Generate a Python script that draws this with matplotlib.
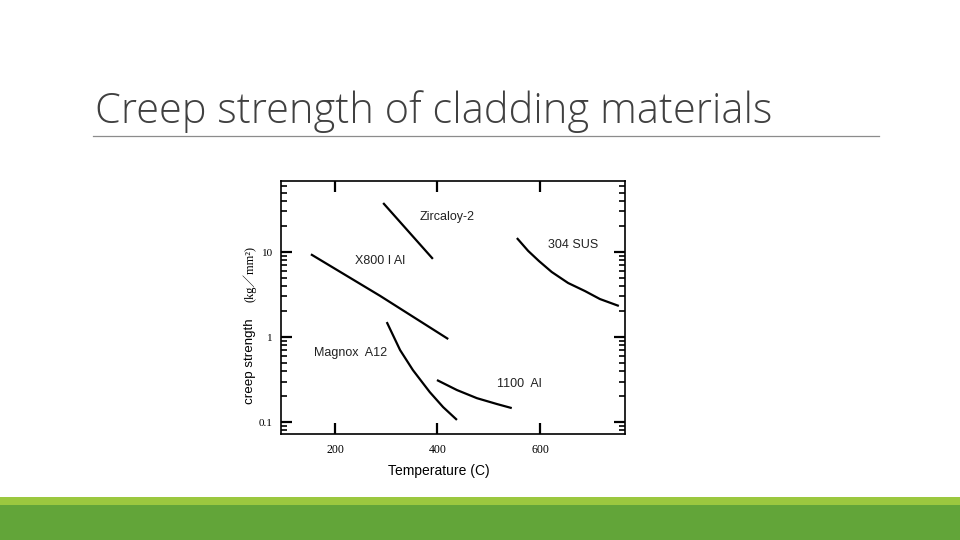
import numpy as np
import matplotlib
matplotlib.use("Agg")
import matplotlib.pyplot as plt
from matplotlib.ticker import LogLocator, NullFormatter, FixedLocator

# ─────────────────────────────────────────────
# DATA (temperature in C, creep strength in kg/mm2)
# ─────────────────────────────────────────────
zirc_T = [294, 391]
zirc_s = [37.7, 8.3]

x800_T = [153, 288, 421]
x800_s = [9.4, 3.05, 0.947]

sus_T = [555, 577, 598, 623, 655, 688, 717, 754]
sus_s = [14.6, 10.3, 7.84, 5.82, 4.32, 3.47, 2.80, 2.32]

magnox_T = [301, 327, 337, 352, 370, 385, 411, 438]
magnox_s = [1.50, 0.703, 0.566, 0.409, 0.295, 0.225, 0.150, 0.106]

al1100_T = [399, 438, 477, 516, 545]
al1100_s = [0.312, 0.238, 0.191, 0.163, 0.146]

labels = [
    ("Zircaloy-2", 366, 25.9),
    ("304 SUS", 616, 12.0),
    ("X800 I Al", 239, 7.9),
    ("Magnox  A12", 159, 0.65),
    ("1100  Al", 516, 0.28),
]

x_ticks = [200, 400, 600]
y_ticks = [0.1, 1, 10]
y_tick_labels = ["0.1", "1", "10"]

# ─────────────────────────────────────────────
# COLORS
# ─────────────────────────────────────────────
LIGHT_GREEN, DARK_GREEN = "#9bc83f", "#62a539"
RULE = "#8c8c8c"
TITLE = "#404040"

fig = plt.figure(figsize=(9.6, 5.4), dpi=100, facecolor="white")

# slide title + rule
fig.text(95 / 960, 1 - 123 / 540, "Creep strength of cladding materials",
         fontsize=30, color=TITLE, family=["Open Sans", "DejaVu Sans"],
         fontweight="light", va="baseline", ha="left")
fig.add_artist(plt.Line2D([93 / 960, 879 / 960], [1 - 136 / 540] * 2,
                          color=RULE, lw=0.9))

# green footer bands
fig.add_artist(plt.Rectangle((0, 0), 1, 35 / 540, color=DARK_GREEN, lw=0))
fig.add_artist(plt.Rectangle((0, 35 / 540), 1, 8 / 540, color=LIGHT_GREEN, lw=0))

# ─────────────────────────────────────────────
# CHART
# ─────────────────────────────────────────────
ax = fig.add_axes([281 / 960, 1 - 434 / 540, 344 / 960, 253 / 540])
ax.set_yscale("log")
ax.set_xlim(94.6, 766)
ax.set_ylim(0.0724, 68.4)

for T, s in [(zirc_T, zirc_s), (x800_T, x800_s), (sus_T, sus_s),
             (magnox_T, magnox_s), (al1100_T, al1100_s)]:
    ax.plot(T, s, color="black", lw=1.6, solid_capstyle="butt",
            solid_joinstyle="round")

for txt, t, s in labels:
    ax.text(t, s, txt, fontsize=9, color="#222222",
            family="Liberation Sans", va="center", ha="left")

ax.xaxis.set_major_locator(FixedLocator(x_ticks))
ax.set_xticklabels([str(v) for v in x_ticks], family="Liberation Serif",
                   fontsize=8.5)
ax.yaxis.set_major_locator(FixedLocator(y_ticks))
ax.set_yticklabels(y_tick_labels, family="Liberation Serif", fontsize=8)
ax.yaxis.set_minor_locator(LogLocator(base=10, subs=np.arange(2, 10)))
ax.yaxis.set_minor_formatter(NullFormatter())

ax.tick_params(axis="x", which="major", pad=7)
ax.tick_params(axis="y", which="major", pad=6)
ax.tick_params(which="major", direction="in", length=8, width=1.6,
               top=True, right=True)
ax.tick_params(which="minor", direction="in", length=4, width=1.2,
               left=True, right=True)
for sp in ax.spines.values():
    sp.set_linewidth(1.2)

fig.text(439 / 960, 1 - 471 / 540, "Temperature (C)", family="Liberation Sans",
         fontsize=10, ha="center", va="center")
fig.text(250 / 960, 1 - 361 / 540, "creep strength", rotation=90,
         family="Liberation Sans", fontsize=9.6, ha="center", va="center")
fig.text(250 / 960, 1 - 274 / 540, "(kg\uff0fmm\u00b2)", rotation=90,
         family=["Liberation Serif", "Noto Sans CJK JP"], fontsize=9,
         ha="center", va="center")

plt.savefig("out.png", dpi=100, facecolor="white")
plt.close()
